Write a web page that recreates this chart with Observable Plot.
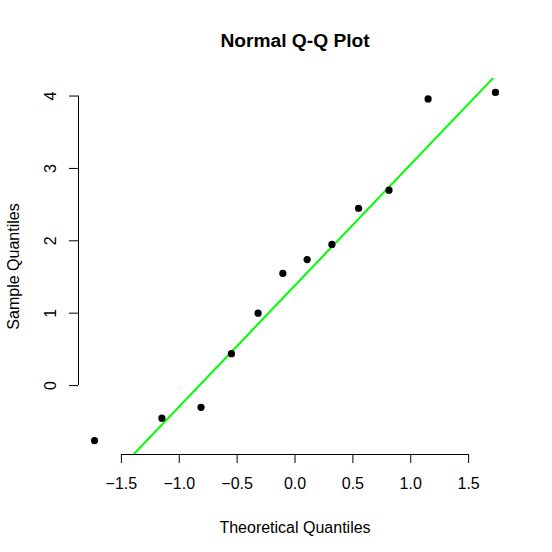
<!DOCTYPE html>
<html>
<head>
<meta charset="utf-8">
<script src="https://cdn.jsdelivr.net/npm/d3@7"></script>
<script src="https://cdn.jsdelivr.net/npm/@observablehq/plot@0.6"></script>
<style>
  html, body { margin: 0; padding: 0; background: #fff; }
  #chart svg { display: block; }
</style>
</head>
<body>
<div id="chart"></div>
<script>
// Theoretical normal quantiles (n = 12) and observed sample values
const theoretical = [-1.732, -1.150, -0.812, -0.549, -0.319, -0.105, 0.105, 0.319, 0.549, 0.812, 1.150, 1.732];
const sample = [-0.76, -0.45, -0.30, 0.44, 1.00, 1.55, 1.74, 1.95, 2.45, 2.70, 3.96, 4.05];
const xTicks = [-1.5, -1.0, -0.5, 0.0, 0.5, 1.0, 1.5];
const yTicks = [0, 1, 2, 3, 4];
const titleText = "Normal Q-Q Plot";
const xLabel = "Theoretical Quantiles";
const yLabel = "Sample Quantiles";

const data = theoretical.map((t, i) => ({t, s: sample[i]}));

// R-style 4% range extension
function rRange(v) {
  const [a, b] = d3.extent(v);
  const e = (b - a) * 0.04;
  return [a - e, b + e];
}
const xDom = rRange(theoretical);
const yDom = rRange(sample);

// qqline: through the first and third quartiles
const sorted = sample.slice().sort(d3.ascending);
const q1 = d3.quantileSorted(sorted, 0.25);
const q3 = d3.quantileSorted(sorted, 0.75);
const z = 0.6744897501960817;
const slope = (q3 - q1) / (2 * z);
const intercept = (q1 + q3) / 2;
const lineData = xDom.map(x => ({x, y: intercept + slope * x}));

const font = "'Liberation Sans', Arial, Helvetica, sans-serif";

const chart = Plot.plot({
  width: 552,
  height: 552,
  marginTop: 78,
  marginRight: 41,
  marginBottom: 98,
  marginLeft: 78,
  style: {fontFamily: font, background: "#fff", color: "#000"},
  x: {domain: xDom, axis: null},
  y: {domain: yDom, axis: null},
  marks: [
    Plot.line(lineData, {x: "x", y: "y", stroke: "#00ff00", strokeWidth: 2, clip: "frame"}),
    Plot.dot(data, {x: "t", y: "s", r: 3.6, fill: "#000", stroke: "none"}),
    // axis lines (R draws them only between extreme ticks)
    Plot.ruleY([yDom[0]], {x1: xTicks[0], x2: xTicks[xTicks.length - 1], stroke: "#000", strokeWidth: 1}),
    Plot.ruleX([xDom[0]], {y1: yTicks[0], y2: yTicks[yTicks.length - 1], stroke: "#000", strokeWidth: 1}),
    Plot.axisX({ticks: xTicks, tickSize: 9, tickPadding: 14.6, tickFormat: d3.format(".1f"), fontSize: 16, label: null, stroke: "#000", fill: "#000"}),
    Plot.axisY({ticks: yTicks, tickSize: 9, tickFormat: () => "", label: null, stroke: "#000"}),
    Plot.text(yTicks, {x: xDom[0], y: d => d, text: d => String(d), rotate: -90, dx: -23, lineAnchor: "bottom", textAnchor: "middle", fontSize: 16, fill: "#000"}),
    Plot.text([titleText], {frameAnchor: "top", dy: -32, lineAnchor: "bottom", textAnchor: "middle", fontSize: 19.2, fontWeight: "bold", fill: "#000"}),
    Plot.text([xLabel], {frameAnchor: "bottom", dy: 78, lineAnchor: "bottom", textAnchor: "middle", fontSize: 16, fill: "#000"}),
    Plot.text([yLabel], {frameAnchor: "left", dx: -60, rotate: -90, lineAnchor: "bottom", textAnchor: "middle", fontSize: 16, fill: "#000"})
  ]
});
document.getElementById("chart").appendChild(chart);
</script>
</body>
</html>
